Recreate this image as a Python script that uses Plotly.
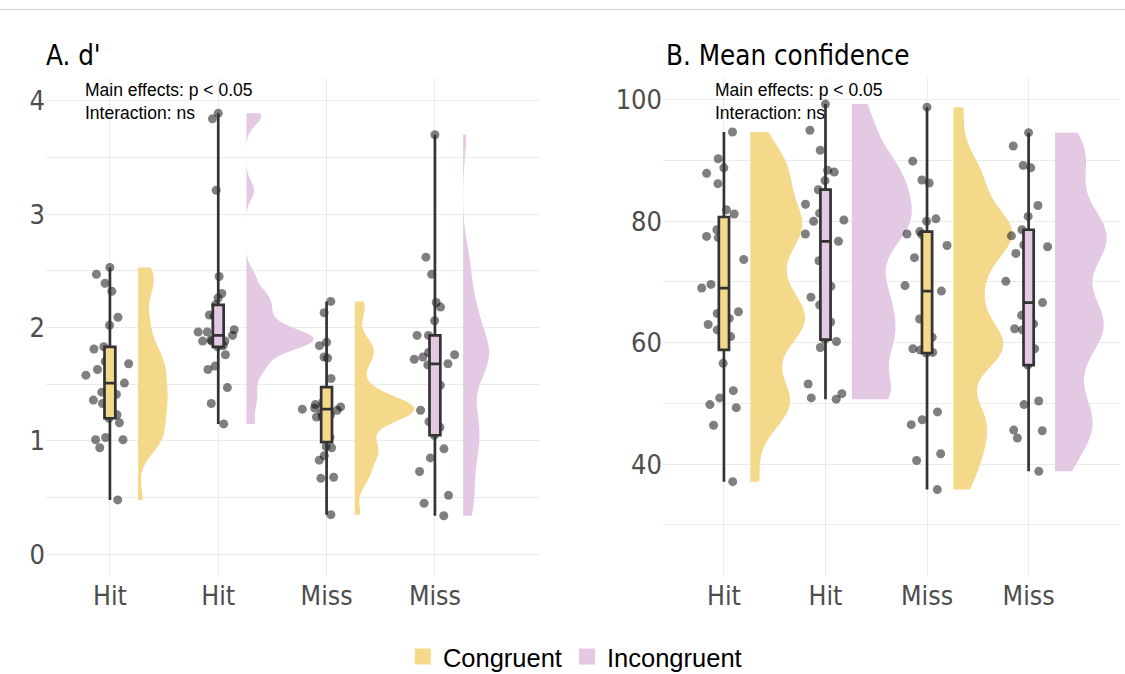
import numpy as np
import plotly.graph_objects as go

# ---------------- data ----------------
conditions = ["Hit", "Hit", "Miss", "Miss"]
congruency = ["Congruent", "Incongruent", "Congruent", "Incongruent"]

# Panel A: d'
dprime_hit_con = [2.53, 2.47, 2.39, 2.32, 2.09, 2.02, 1.83, 1.81, 1.70, 1.68, 1.63, 1.58, 1.51,
                  1.43, 1.41, 1.36, 1.33, 1.23, 1.20, 1.16, 1.03, 1.01, 1.01, 0.94, 0.48]
dprime_hit_inc = [3.89, 3.84, 3.21, 2.45, 2.30, 2.26, 2.20, 2.11, 2.10, 1.98, 1.96, 1.96, 1.93,
                  1.89, 1.88, 1.88, 1.88, 1.84, 1.83, 1.76, 1.66, 1.63, 1.47, 1.33, 1.15]
dprime_miss_con = [2.23, 2.13, 1.87, 1.84, 1.74, 1.73, 1.55, 1.40, 1.34, 1.32, 1.31, 1.30, 1.29,
                   1.28, 1.27, 1.25, 1.23, 1.21, 1.21, 1.03, 0.95, 0.94, 0.87, 0.83, 0.68, 0.67, 0.35]
dprime_miss_inc = [3.70, 2.62, 2.47, 2.22, 2.18, 2.06, 1.93, 1.93, 1.78, 1.76, 1.74, 1.72, 1.68,
                   1.67, 1.49, 1.27, 1.17, 1.12, 1.05, 0.93, 0.85, 0.73, 0.52, 0.45, 0.34]

# Panel B: mean confidence
conf_hit_con = [94.7, 90.3, 88.8, 87.9, 86.2, 81.9, 81.2, 80.2, 78.6, 77.5, 77.3, 73.7, 69.6,
                69.0, 65.1, 64.8, 64.0, 63.0, 62.1, 61.0, 56.6, 52.1, 50.9, 49.8, 49.3, 46.4, 37.1]
conf_hit_inc = [99.3, 95.0, 91.7, 88.4, 88.1, 86.7, 85.2, 82.8, 81.3, 80.2, 80.0, 77.9, 76.7,
                73.5, 69.3, 67.5, 66.2, 63.4, 60.5, 60.2, 59.2, 53.2, 51.6, 50.9, 50.7]
conf_miss_con = [98.8, 89.9, 86.8, 86.3, 80.4, 80.0, 78.3, 77.9, 77.8, 76.0, 74.0, 69.4, 68.5,
                 63.9, 60.9, 59.0, 58.8, 58.4, 58.3, 48.6, 47.3, 46.5, 41.7, 40.6, 35.8]
conf_miss_inc = [94.6, 92.4, 89.2, 88.8, 82.6, 80.8, 78.6, 77.6, 76.1, 75.8, 74.7, 70.1, 66.6,
                 64.5, 63.1, 62.3, 62.1, 59.0, 56.3, 50.4, 49.8, 45.6, 45.5, 44.3, 38.8]

panel_titles = ["A. d'", "B. Mean confidence"]
stats_text = "Main effects: p < 0.05<br>Interaction: ns"

# ---------------- style ----------------
COLORS = {"Congruent": "#F5D98B", "Incongruent": "#E3C9E3"}
NARROW = "Liberation Sans Narrow, DejaVu Sans Condensed, Liberation Sans, Arial"
REGULAR = "Liberation Sans, Arial"
GRID = "#EBEBEB"
W, H = 1125, 674


def bandwidth(v, adjust):
    v = np.asarray(v, float)
    iqr = np.subtract(*np.percentile(v, [75, 25]))
    s = min(np.std(v, ddof=1), iqr / 1.34)
    return adjust * 0.9 * s * len(v) ** (-0.2)


def kde_peak(v, bw):
    v = np.asarray(v, float)
    grid = np.linspace(v.min(), v.max(), 512)
    dens = np.exp(-0.5 * ((grid[:, None] - v[None, :]) / bw) ** 2).sum(1) / (len(v) * bw * np.sqrt(2 * np.pi))
    return dens.max()


fig = go.Figure()

panels = [
    dict(data=[dprime_hit_con, dprime_hit_inc, dprime_miss_con, dprime_miss_inc],
         xa="x", ya="y", halfmax=0.62, adjust=0.62),
    dict(data=[conf_hit_con, conf_hit_inc, conf_miss_con, conf_miss_inc],
         xa="x2", ya="y2", halfmax=0.59, adjust=0.55),
]

for p in panels:
    bws = [bandwidth(v, p["adjust"]) for v in p["data"]]
    peaks = [kde_peak(v, b) for v, b in zip(p["data"], bws)]
    pmax = max(peaks)
    # half violins (area-scaled within panel)
    for i, (vals, cg) in enumerate(zip(p["data"], congruency)):
        fig.add_trace(go.Violin(
            y=vals, x0=i + 1 + 0.26, side="positive",
            width=2 * p["halfmax"] * peaks[i] / pmax,
            scalemode="width", spanmode="hard",
            bandwidth=bws[i], points=False, box_visible=False, meanline_visible=False,
            fillcolor=COLORS[cg], line=dict(width=0, color=COLORS[cg]), opacity=1,
            xaxis=p["xa"], yaxis=p["ya"], showlegend=False, hoverinfo="skip"))
    # jittered points
    for i, vals in enumerate(p["data"]):
        fig.add_trace(go.Box(
            y=vals, x0=i + 1, width=0.46, boxpoints="all", jitter=1, pointpos=0,
            fillcolor="rgba(0,0,0,0)", line=dict(width=0, color="rgba(0,0,0,0)"),
            marker=dict(color="rgba(0,0,0,0.5)", size=9, line=dict(width=0)),
            xaxis=p["xa"], yaxis=p["ya"], showlegend=False, hoverinfo="skip"))
    # boxplots
    for i, (vals, cg) in enumerate(zip(p["data"], congruency)):
        fig.add_trace(go.Box(
            y=vals, x0=i + 1, width=0.1, boxpoints=False, quartilemethod="inclusive",
            whiskerwidth=0, fillcolor=COLORS[cg], line=dict(width=2.7, color="#333333"),
            xaxis=p["xa"], yaxis=p["ya"], showlegend=False, hoverinfo="skip"))

# legend entries
for cg in ["Congruent", "Incongruent"]:
    fig.add_trace(go.Scatter(x=[None], y=[None], mode="markers", name=cg,
                             marker=dict(symbol="square", size=18, color=COLORS[cg]),
                             xaxis="x", yaxis="y"))

ydom = [1 - 577 / H, 1 - 78 / H]
xcommon = dict(tickvals=[1, 2, 3, 4], ticktext=conditions, showgrid=True, gridcolor=GRID,
               gridwidth=1, zeroline=False, showline=False, ticks="",
               tickfont=dict(family=NARROW, size=26.5, color="#4D4D4D"))
ycommon = dict(showgrid=True, gridcolor=GRID, gridwidth=1, zeroline=False, showline=False,
               ticks="", tickfont=dict(family=NARROW, size=27, color="#4D4D4D"))

fig.update_layout(
    width=W, height=H, autosize=False,
    margin=dict(l=0, r=0, t=0, b=0, autoexpand=False),
    paper_bgcolor="white", plot_bgcolor="white",
    xaxis=dict(domain=[46 / W, 540 / W], range=[0.41, 4.97], anchor="y", **xcommon),
    yaxis=dict(domain=ydom, range=[-0.2, 4.2], tickvals=[0, 1, 2, 3, 4], anchor="x",
               minor=dict(dtick=0.5, tick0=0, showgrid=True, gridcolor=GRID, gridwidth=1),
               **ycommon),
    xaxis2=dict(domain=[663 / W, 1120 / W], range=[0.40, 4.90], anchor="y2", **xcommon),
    yaxis2=dict(domain=ydom, range=[21.4, 103.6], tickvals=[40, 60, 80, 100], anchor="x2",
                minor=dict(dtick=10, tick0=0, showgrid=True, gridcolor=GRID, gridwidth=1),
                **ycommon),
    boxmode="overlay", violinmode="overlay",
    showlegend=True,
    legend=dict(orientation="h", x=0.511, xanchor="center", y=1 - 657 / H, yanchor="middle",
                font=dict(family=REGULAR, size=25.5, color="black"), itemsizing="trace",
                bgcolor="rgba(0,0,0,0)"),
    shapes=[dict(type="line", xref="paper", yref="paper", x0=0, x1=1,
                 y0=1 - 9.5 / H, y1=1 - 9.5 / H, line=dict(color="#CCCCCC", width=1))],
    annotations=[
        dict(text=panel_titles[0], xref="paper", yref="paper", x=44 / W, y=1 - 54.5 / H,
             xanchor="left", yanchor="middle", showarrow=False,
             font=dict(family=NARROW, size=27.5, color="black")),
        dict(text=panel_titles[1], xref="paper", yref="paper", x=664 / W, y=1 - 54.5 / H,
             xanchor="left", yanchor="middle", showarrow=False,
             font=dict(family=NARROW, size=27.5, color="black")),
        dict(text=stats_text, xref="paper", yref="paper", x=83 / W, y=1 - 78 / H,
             xanchor="left", yanchor="top", align="left", showarrow=False,
             font=dict(family=REGULAR, size=17.5, color="black")),
        dict(text=stats_text, xref="paper", yref="paper", x=713 / W, y=1 - 78 / H,
             xanchor="left", yanchor="top", align="left", showarrow=False,
             font=dict(family=REGULAR, size=17.5, color="black")),
    ],
)

fig.write_html("out.html")
